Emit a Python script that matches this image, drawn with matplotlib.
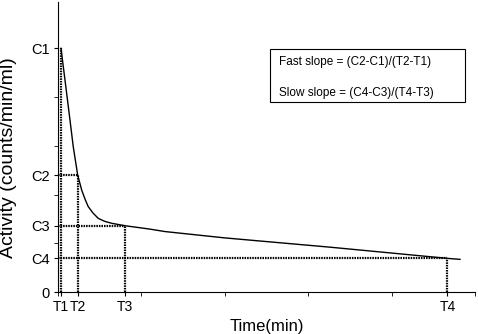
import numpy as np
import matplotlib.pyplot as plt
from matplotlib.patches import Rectangle

plt.rcParams['font.family'] = ['Liberation Sans', 'DejaVu Sans']

# points (time, activity)
curve_t = [0.036, 0.08, 0.124, 0.183, 0.236, 0.284, 0.33, 0.363, 0.42, 0.483, 0.56, 0.644,
           0.803, 1.103, 1.283, 2.0, 3.26, 4.67, 4.82]
curve_c = [5.00, 4.40, 3.80, 2.98, 2.40, 2.09, 1.88, 1.75, 1.62, 1.51, 1.45, 1.41,
           1.36, 1.29, 1.24, 1.11, 0.92, 0.69, 0.67]

# marked points
t_names = ['T1', 'T2', 'T3', 'T4']
t_vals = [0.036, 0.236, 0.803, 4.67]
c_names = ['C1', 'C2', 'C3', 'C4']
c_vals = [5.00, 2.40, 1.36, 0.69]

fig = plt.figure(figsize=(4.78, 3.34), dpi=100)
ax = fig.add_axes([58/478, 42/334, 417/478, 290/334])

ax.plot(curve_t, curve_c, color='black', lw=1)

dot = dict(color='black', lw=1.6, ls=(0, (0.7, 0.45)))
for t, c in zip(t_vals, c_vals):
    ax.plot([t, t], [0, c], **dot)
    if c != c_vals[0]:
        ax.plot([0, t], [c, c], **dot)

ax.set_xlim(0, 5)
ax.set_ylim(0, 5.95)
for s in ['top', 'right']:
    ax.spines[s].set_visible(False)

ax.set_xticks(t_vals)
ax.set_xticklabels(t_names, fontsize=10)
ax.set_yticks([0] + c_vals)
ax.set_yticklabels(['0'] + c_names, fontsize=10.5)
ax.tick_params(axis='both', which='major', length=3, pad=3)
ax.set_xticks(range(6), minor=True)
ax.set_yticks(range(6), minor=True)
ax.tick_params(axis='both', which='minor', length=3, direction='out')

ax.set_xlabel('Time(min)', fontsize=12, labelpad=3)
ax.set_ylabel('Activity (counts/min/ml)', fontsize=14)
ax.yaxis.set_label_coords(-0.098, 0.462)

fig.patches.append(Rectangle((270/478, 1 - 102/334), 195/478, 53/334,
                             transform=fig.transFigure, fill=False, ec='black', lw=0.8))
fig.text(279/478, 1 - 62/334, 'Fast slope = (C2-C1)/(T2-T1)', fontsize=8.5, va='center')
fig.text(279/478, 1 - 93/334, 'Slow slope = (C4-C3)/(T4-T3)', fontsize=8.5, va='center')

fig.savefig('out.png', dpi=100)
